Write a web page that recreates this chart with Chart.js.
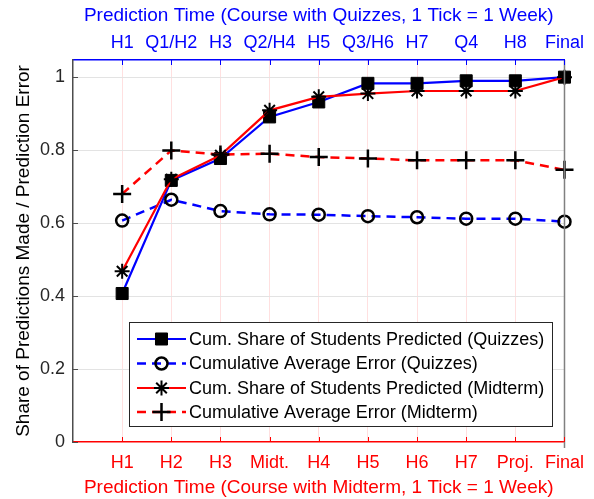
<!DOCTYPE html>
<html>
<head>
<meta charset="utf-8">
<script src="https://cdn.jsdelivr.net/npm/chart.js@4"></script>
<style>
  html, body { margin: 0; padding: 0; background: #ffffff; }
  #wrap { width: 594px; height: 499px; }
</style>
</head>
<body>
<div id="wrap"><canvas id="c" width="594" height="499"></canvas></div>
<script>
// ---- Data ----
const labelsMidterm = ['H1', 'H2', 'H3', 'Midt.', 'H4', 'H5', 'H6', 'H7', 'Proj.', 'Final'];
const labelsQuizzes = ['H1', 'Q1/H2', 'H3', 'Q2/H4', 'H5', 'Q3/H6', 'H7', 'Q4', 'H8', 'Final'];
const shareQuizzes = [0.407, 0.717, 0.777, 0.891, 0.932, 0.983, 0.983, 0.990, 0.990, 1.000];
const errorQuizzes = [0.607, 0.664, 0.633, 0.624, 0.623, 0.619, 0.616, 0.612, 0.612, 0.604];
const shareMidterm = [0.468, 0.720, 0.786, 0.909, 0.946, 0.955, 0.962, 0.962, 0.962, 1.000];
const errorMidterm = [0.680, 0.799, 0.788, 0.790, 0.781, 0.777, 0.772, 0.772, 0.772, 0.746];
const yTickValues = [0, 0.2, 0.4, 0.6, 0.8, 1];
const yTickLabels = ['0', '0.2', '0.4', '0.6', '0.8', '1'];
const seriesNames = [
  'Cum. Share of Students Predicted (Quizzes)',
  'Cumulative Average Error (Quizzes)',
  'Cum. Share of Students Predicted (Midterm)',
  'Cumulative Average Error (Midterm)'
];
const titleTop = 'Prediction Time (Course with Quizzes, 1 Tick = 1 Week)';
const titleBottom = 'Prediction Time (Course with Midterm, 1 Tick = 1 Week)';
const titleY = 'Share of Predictions Made / Prediction Error';

const FONT = "'Liberation Sans', Arial, Helvetica, sans-serif";
const toXY = arr => arr.map((v, i) => ({ x: i, y: v }));
const xTickIdx = labelsMidterm.map((_, i) => i);

const datasets = [
  { label: seriesNames[0], data: toXY(shareQuizzes), xAxisID: 'xTop', order: 4,
    borderColor: '#0000ff', borderWidth: 2.2, pointStyle: 'rect', pointRadius: 8.5,
    pointBackgroundColor: '#000', pointBorderColor: '#000', pointBorderWidth: 1 },
  { label: seriesNames[1], data: toXY(errorQuizzes), xAxisID: 'xTop', order: 3,
    borderColor: '#0000ff', borderWidth: 2.5, borderDash: [9, 6], pointStyle: 'circle', pointRadius: 6,
    pointBackgroundColor: 'rgba(0,0,0,0)', pointBorderColor: '#000', pointBorderWidth: 2.5 },
  { label: seriesNames[2], data: toXY(shareMidterm), xAxisID: 'x', order: 2,
    borderColor: '#ff0000', borderWidth: 2.2, pointStyle: 'star', pointRadius: 7.5,
    pointBackgroundColor: '#000', pointBorderColor: '#000', pointBorderWidth: 2 },
  { label: seriesNames[3], data: toXY(errorMidterm), xAxisID: 'x', order: 1,
    borderColor: '#ff0000', borderWidth: 2.5, borderDash: [9, 6], pointStyle: 'cross', pointRadius: 9,
    pointBackgroundColor: '#000', pointBorderColor: '#000', pointBorderWidth: 2.5 }
];
datasets.forEach(d => { d.fill = false; d.tension = 0; d.clip = false; d.pointHoverRadius = d.pointRadius; });

const decor = {
  id: 'decor',
  afterDraw(chart) {
    const ctx = chart.ctx;
    const a = chart.chartArea;
    const xs = chart.scales.x, xt = chart.scales.xTop, ys = chart.scales.y;
    const TL = 5;
    ctx.save();
    // right border
    ctx.strokeStyle = '#808080'; ctx.lineWidth = 1.5;
    ctx.beginPath(); ctx.moveTo(a.right, a.top); ctx.lineTo(a.right, a.bottom + 6); ctx.stroke();
    // inward ticks
    ctx.lineWidth = 1;
    ctx.strokeStyle = '#ff0000';
    xs.ticks.forEach(t => { const px = Math.round(xs.getPixelForValue(t.value)) + 0.5;
      ctx.beginPath(); ctx.moveTo(px, a.bottom); ctx.lineTo(px, a.bottom - TL); ctx.stroke(); });
    ctx.strokeStyle = '#0000ff';
    xt.ticks.forEach(t => { const px = Math.round(xt.getPixelForValue(t.value)) + 0.5;
      ctx.beginPath(); ctx.moveTo(px, a.top); ctx.lineTo(px, a.top + TL); ctx.stroke(); });
    ctx.strokeStyle = '#4d4d4d';
    ys.ticks.forEach(t => { const py = Math.round(ys.getPixelForValue(t.value)) + 0.5;
      ctx.beginPath(); ctx.moveTo(a.left, py); ctx.lineTo(a.left + TL, py); ctx.stroke(); });
    // legend
    const box = { l: 129.5, t: 322.5, r: 552.5, b: 426.5 };
    ctx.fillStyle = '#ffffff';
    ctx.fillRect(box.l, box.t, box.r - box.l, box.b - box.t);
    ctx.strokeStyle = '#262626'; ctx.lineWidth = 1;
    ctx.strokeRect(box.l, box.t, box.r - box.l, box.b - box.t);
    const rows = [339, 363.5, 388, 412];
    chart.data.datasets.forEach((d, i) => {
      const y = rows[i];
      ctx.save();
      ctx.strokeStyle = d.borderColor; ctx.lineWidth = d.borderWidth;
      ctx.setLineDash(d.borderDash || []);
      ctx.beginPath(); ctx.moveTo(137, y); ctx.lineTo(186, y); ctx.stroke();
      ctx.restore();
      ctx.save();
      ctx.fillStyle = d.pointBackgroundColor; ctx.strokeStyle = d.pointBorderColor;
      ctx.lineWidth = d.pointBorderWidth;
      Chart.helpers.drawPoint(ctx, { pointStyle: d.pointStyle, radius: d.pointRadius, borderWidth: d.pointBorderWidth, rotation: 0 }, 161.5, y);
      ctx.restore();
      ctx.fillStyle = '#000';
      ctx.font = '18px ' + FONT;
      ctx.textBaseline = 'middle'; ctx.textAlign = 'left';
      ctx.fillText(d.label, 189, y + 1);
    });
    ctx.restore();
  }
};

new Chart(document.getElementById('c'), {
  type: 'line',
  data: { datasets },
  options: {
    responsive: false,
    animation: false,
    events: [],
    layout: { padding: 0 },
    plugins: { legend: { display: false }, tooltip: { enabled: false } },
    scales: {
      x: {
        type: 'linear', position: 'bottom', min: -1, max: 9,
        afterBuildTicks: s => { s.ticks = xTickIdx.map(v => ({ value: v })); },
        afterFit: s => { s.height = 57; },
        ticks: { color: '#ff0000', font: { family: FONT, size: 18 }, padding: 10, maxRotation: 0, autoSkip: false,
          callback: v => labelsMidterm[v] },
        grid: { drawTicks: false, color: c => (c.tick && c.tick.value === 9) ? 'rgba(0,0,0,0)' : '#ffe0e0', lineWidth: 1 },
        border: { color: '#ff0000', width: 1.5 },
        title: { display: true, text: titleBottom, color: '#ff0000', font: { family: FONT, size: 19 }, padding: { top: 0, bottom: 0 } }
      },
      xTop: {
        type: 'linear', position: 'top', min: -1, max: 9,
        afterBuildTicks: s => { s.ticks = xTickIdx.map(v => ({ value: v })); },
        afterFit: s => { s.height = 60; },
        ticks: { color: '#0000ff', font: { family: FONT, size: 18 }, padding: 6.5, maxRotation: 0, autoSkip: false,
          callback: v => labelsQuizzes[v] },
        grid: { drawTicks: false, drawOnChartArea: false },
        border: { color: '#0000ff', width: 1.5 },
        title: { display: true, text: titleTop, color: '#0000ff', font: { family: FONT, size: 19 }, padding: { top: 4, bottom: 0 } }
      },
      y: {
        type: 'linear', position: 'left', min: 0, max: 1.047,
        afterBuildTicks: s => { s.ticks = yTickValues.map(v => ({ value: v })); },
        afterFit: s => { s.width = 73; },
        ticks: { color: '#262626', font: { family: FONT, size: 18 }, padding: 8,
          callback: v => yTickLabels[yTickValues.findIndex(t => Math.abs(t - v) < 1e-9)] },
        grid: { drawTicks: false, color: c => (c.tick && c.tick.value === 0) ? 'rgba(0,0,0,0)' : '#e3e3e3', lineWidth: 1 },
        border: { color: '#4d4d4d', width: 1.5 },
        title: { display: true, text: titleY, color: '#000', font: { family: FONT, size: 19 }, padding: { top: 12, bottom: 0 } }
      },
      yRight: {
        type: 'linear', position: 'right', min: 0, max: 1.047,
        afterFit: s => { s.width = 28; },
        ticks: { display: false },
        grid: { display: false, drawOnChartArea: false, drawTicks: false },
        border: { display: false }
      }
    }
  },
  plugins: [decor]
});
</script>
</body>
</html>
